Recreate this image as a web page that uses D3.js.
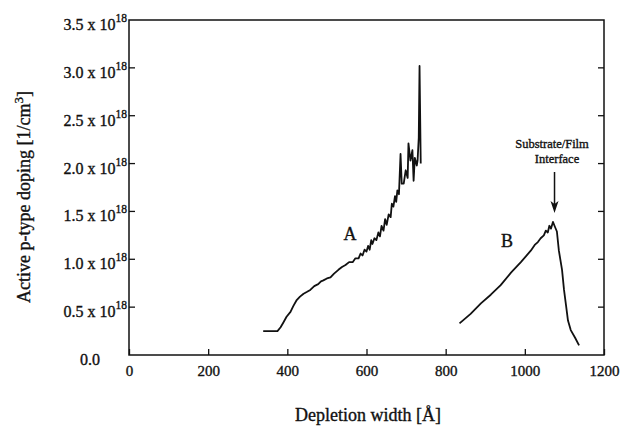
<!DOCTYPE html>
<html>
<head>
<meta charset="utf-8">
<script src="https://cdn.jsdelivr.net/npm/d3@7"></script>
<style>
  body { margin: 0; background: #fff; }
  svg text { font-family: "Liberation Serif", "DejaVu Serif", serif; fill: #111; stroke: #111; stroke-width: 0.35px; }
</style>
</head>
<body>
<div id="chart"></div>
<script>
// curve A (film sample)
const aDepth = [339, 375, 383, 390, 398, 408, 415, 423, 432, 441, 450, 458, 468, 478, 485, 491, 500, 509, 518, 529,
  538, 547, 556, 565, 572, 580, 585, 590, 595, 600, 604, 608, 612, 615, 620, 625, 630, 634, 638, 643,
  647, 651, 656, 661, 664, 668, 672, 675, 678, 682, 686, 689, 694, 699, 704, 706, 711, 716, 719, 722,
  727, 729, 732, 734, 737];
const aDoping = [0.25, 0.25, 0.29, 0.34, 0.40, 0.45, 0.51, 0.57, 0.61, 0.64, 0.66, 0.68, 0.72, 0.74, 0.77, 0.78, 0.80, 0.81, 0.85, 0.89,
  0.92, 0.94, 0.97, 0.97, 1.01, 1.01, 1.06, 1.04, 1.10, 1.08, 1.14, 1.10, 1.20, 1.16, 1.22, 1.20, 1.28, 1.24, 1.35, 1.30,
  1.42, 1.36, 1.47, 1.44, 1.58, 1.55, 1.66, 1.60, 1.72, 1.68, 2.10, 1.79, 1.79, 1.93, 1.85, 2.21, 2.03, 2.14, 1.82, 2.06,
  1.98, 2.03, 2.27, 3.02, 2.00];

// curve B
const bDepth = [835, 863, 889, 914, 939, 965, 990, 1015, 1025, 1033, 1040, 1048, 1053, 1058, 1062, 1066, 1071, 1076, 1081,
  1086, 1094, 1099, 1104, 1109, 1116, 1127, 1137];
const bDoping = [0.33, 0.43, 0.54, 0.63, 0.73, 0.86, 0.97, 1.09, 1.15, 1.18, 1.22, 1.25, 1.30, 1.28, 1.35, 1.32, 1.39, 1.34, 1.29,
  1.09, 0.89, 0.68, 0.52, 0.36, 0.26, 0.18, 0.10];

const xTicks = [0, 200, 400, 600, 800, 1000, 1200];
const yTicks = [0, 0.5, 1.0, 1.5, 2.0, 2.5, 3.0, 3.5];

const width = 625, height = 427;
const margin = { left: 129, right: 604, top: 20, bottom: 355 };

const svg = d3.select("#chart").append("svg")
  .attr("width", width)
  .attr("height", height);

const x = d3.scaleLinear().domain([0, 1200]).range([margin.left, margin.right]);
const y = d3.scaleLinear().domain([0, 3.5]).range([margin.bottom, margin.top]);

// frame
svg.append("rect")
  .attr("x", margin.left).attr("y", margin.top)
  .attr("width", margin.right - margin.left).attr("height", margin.bottom - margin.top)
  .attr("fill", "none").attr("stroke", "#111").attr("stroke-width", 1.5);

// bottom axis, ticks pointing in
const xAxis = svg.append("g")
  .attr("transform", `translate(0,${margin.bottom})`)
  .call(d3.axisBottom(x).tickValues(xTicks).tickSize(-6).tickPadding(10).tickFormat(d3.format("d")));
xAxis.select(".domain").remove();
xAxis.selectAll("line").attr("stroke", "#111").attr("stroke-width", 1.3);
xAxis.selectAll("text").attr("font-size", "15px").attr("font-family", "Liberation Serif").attr("fill", "#111");

// left axis ticks
svg.append("g").selectAll("line")
  .data(yTicks.slice(1, -1))
  .enter().append("line")
  .attr("x1", margin.left).attr("x2", margin.left + 6)
  .attr("y1", d => y(d)).attr("y2", d => y(d))
  .attr("stroke", "#111").attr("stroke-width", 1.3);

// right axis ticks
svg.append("g").selectAll("line")
  .data(yTicks.slice(1, -1))
  .enter().append("line")
  .attr("x1", margin.right).attr("x2", margin.right - 6)
  .attr("y1", d => y(d)).attr("y2", d => y(d))
  .attr("stroke", "#111").attr("stroke-width", 1.3);

// y tick labels with superscript
const yLab = svg.append("g").selectAll("text")
  .data(yTicks)
  .enter().append("text")
  .attr("x", d => d === 0 ? 100 : 127)
  .attr("y", d => y(d) + 10)
  .attr("text-anchor", "end")
  .attr("font-size", "16px");
yLab.each(function (d) {
  const t = d3.select(this);
  if (d === 0) { t.text("0.0"); return; }
  t.append("tspan").text(d.toFixed(1) + " x 10");
  t.append("tspan").attr("dy", -8).attr("font-size", "11.5px").text("18");
});

// curves
const line = d3.line().x(d => x(d[0])).y(d => y(d[1]));
[[aDepth, aDoping], [bDepth, bDoping]].forEach(([xs, ys]) => {
  svg.append("path")
    .datum(xs.map((v, i) => [v, ys[i]]))
    .attr("fill", "none")
    .attr("stroke", "#111")
    .attr("stroke-width", 1.8)
    .attr("stroke-linejoin", "round")
    .attr("d", line);
});

// curve labels
svg.append("text").attr("x", 350).attr("y", 240)
  .attr("text-anchor", "middle").attr("font-size", "18px").text("A");
svg.append("text").attr("x", 507).attr("y", 247)
  .attr("text-anchor", "middle").attr("font-size", "18px").text("B");

// interface annotation
svg.append("text").attr("x", 552).attr("y", 148)
  .attr("text-anchor", "middle").attr("font-size", "12.5px").text("Substrate/Film");
svg.append("text").attr("x", 557).attr("y", 163)
  .attr("text-anchor", "middle").attr("font-size", "12.5px").text("Interface");
const ax = x(1075);
svg.append("line")
  .attr("x1", ax).attr("x2", ax).attr("y1", 172).attr("y2", 206)
  .attr("stroke", "#111").attr("stroke-width", 1.5);
svg.append("path")
  .attr("d", `M${ax - 4},${201} L${ax},${213} L${ax + 4},${201} L${ax},${204} Z`)
  .attr("fill", "#111");

// axis titles
svg.append("text")
  .attr("x", 368).attr("y", 421)
  .attr("text-anchor", "middle").attr("font-size", "18px")
  .text("Depletion width [Å]");

const yt = svg.append("text")
  .attr("transform", `translate(30,${197}) rotate(-90)`)
  .attr("text-anchor", "middle").attr("font-size", "18px");
yt.append("tspan").text("Active p-type doping [1/cm");
yt.append("tspan").attr("dy", -7).attr("font-size", "13px").text("3");
yt.append("tspan").attr("dy", 7).text("]");
</script>
</body>
</html>
